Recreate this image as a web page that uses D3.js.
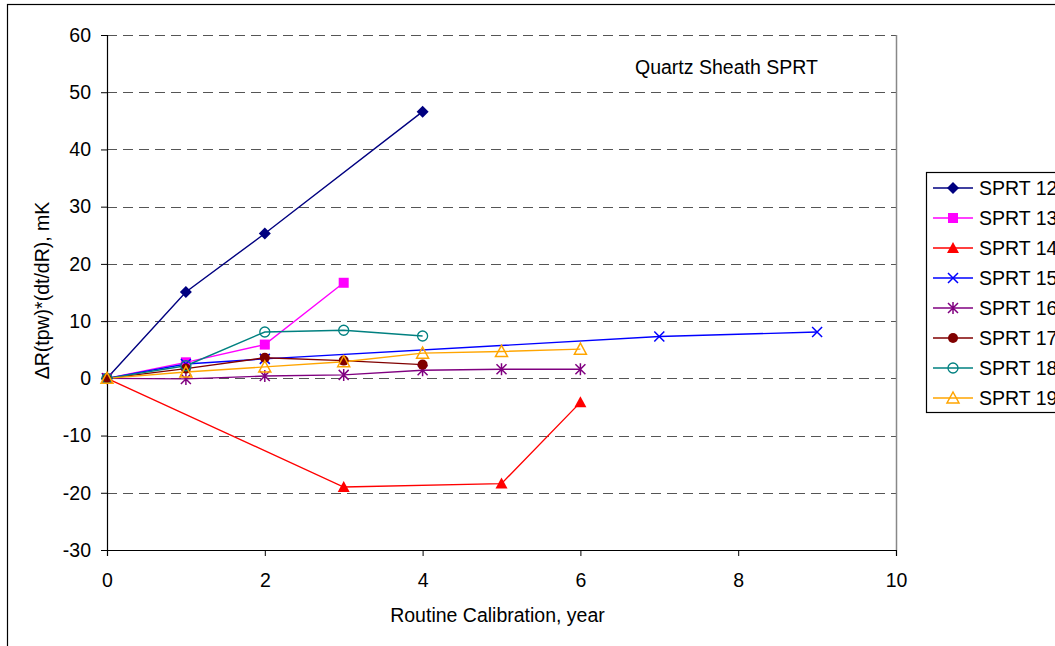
<!DOCTYPE html>
<html>
<head>
<meta charset="utf-8">
<script src="https://cdn.jsdelivr.net/npm/d3@7"></script>
<style>
  body { margin: 0; background: #fff; }
  text { font-family: "Liberation Sans", Arial, sans-serif; }
</style>
</head>
<body>
<div id="chart"></div>
<script>
// values
var seriesNames = ["SPRT 12", "SPRT 13", "SPRT 14", "SPRT 15", "SPRT 16", "SPRT 17", "SPRT 18", "SPRT 19"];
var sprt12 = [[0, 0], [1, 15.1], [2, 25.3], [4, 46.6]];
var sprt13 = [[0, 0], [1, 2.8], [2, 5.9], [3, 16.7]];
var sprt14 = [[0, 0], [3, -19.0], [5, -18.4], [6, -4.2]];
var sprt15 = [[0, 0], [1, 2.5], [2, 3.4], [7, 7.3], [9, 8.1]];
var sprt16 = [[0, 0], [1, -0.1], [2, 0.4], [3, 0.6], [4, 1.4], [5, 1.6], [6, 1.6]];
var sprt17 = [[0, 0], [1, 1.7], [2, 3.6], [3, 3.1], [4, 2.4]];
var sprt18 = [[0, 0], [1, 2.2], [2, 8.1], [3, 8.4], [4, 7.4]];
var sprt19 = [[0, 0], [1, 1.1], [2, 2.0], [3, 2.9], [4, 4.4], [5, 4.7], [6, 5.1]];
var xTicks = [0, 2, 4, 6, 8, 10];
var yTicks = [-30, -20, -10, 0, 10, 20, 30, 40, 50, 60];

var seriesData = [sprt12, sprt13, sprt14, sprt15, sprt16, sprt17, sprt18, sprt19];
var colors = ["#000080", "#ff00ff", "#ff0000", "#0000ff", "#800080", "#800000", "#008080", "#ffa500"];
var shapes = ["diamond", "square", "triangle", "x", "star", "circle", "ocircle", "otriangle"];

var W = 1055, H = 646;
var fs = 19.5;
var margin = {top: 35, left: 107, right: W - 896, bottom: H - 550};
var width = W - margin.left - margin.right,
    height = H - margin.top - margin.bottom;

var svg = d3.select("#chart").append("svg")
    .attr("width", W)
    .attr("height", H);

// outer chart frame
svg.append("rect")
    .attr("x", 7.5).attr("y", 4.5)
    .attr("width", W + 10).attr("height", H + 10)
    .attr("fill", "none").attr("stroke", "#000").attr("stroke-width", 1.2);

var g = svg.append("g").attr("transform", "translate(" + margin.left + "," + margin.top + ")");

var x = d3.scaleLinear().domain([0, 10]).range([0, width]);
var y = d3.scaleLinear().domain([-30, 60]).range([height, 0]);

// dashed gridlines
g.selectAll(".grid").data(yTicks.filter(function(d) { return d != -30; }))
    .enter().append("line")
    .attr("class", "grid")
    .attr("x1", 0).attr("x2", width)
    .attr("y1", function(d) { return Math.round(y(d)) + 0.5; })
    .attr("y2", function(d) { return Math.round(y(d)) + 0.5; })
    .attr("stroke", "#555").attr("stroke-width", 1)
    .attr("stroke-dasharray", "10,6");

// right edge of plot area
g.append("line")
    .attr("x1", width + 0.5).attr("x2", width + 0.5)
    .attr("y1", 0).attr("y2", height)
    .attr("stroke", "#888").attr("stroke-width", 1.5);

var plain = function(d) { return String(d); };
var xAxis = g.append("g")
    .attr("transform", "translate(0," + height + ")")
    .call(d3.axisBottom(x).tickValues(xTicks).tickFormat(plain).tickSize(6).tickPadding(17));
var yAxis = g.append("g")
    .call(d3.axisLeft(y).tickValues(yTicks).tickFormat(plain).tickSize(6).tickPadding(10));

[xAxis, yAxis].forEach(function(a) {
    a.select(".domain").attr("stroke", "#000").attr("stroke-width", 1.2);
    a.selectAll(".tick line").attr("stroke", "#000");
    a.selectAll("text").attr("font-size", fs).attr("fill", "#000")
        .attr("font-family", "Liberation Sans, Arial, sans-serif");
});
yAxis.select(".domain").attr("d", "M0.5," + height + "V0");

var line = d3.line()
    .x(function(d) { return x(d[0]); })
    .y(function(d) { return y(d[1]); });

function marker(sel, shape, color) {
    var s = 5;
    if (shape == "diamond") {
        sel.append("path").attr("d", "M0,-6L6,0L0,6L-6,0Z").attr("fill", color);
    } else if (shape == "square") {
        sel.append("rect").attr("x", -5).attr("y", -5).attr("width", 10).attr("height", 10).attr("fill", color);
    } else if (shape == "triangle") {
        sel.append("path").attr("d", "M0,-6L6,5L-6,5Z").attr("fill", color);
    } else if (shape == "otriangle") {
        sel.append("path").attr("d", "M0,-6L6,5L-6,5Z").attr("fill", "none")
            .attr("stroke", color).attr("stroke-width", 1.5);
    } else if (shape == "x") {
        sel.append("path").attr("d", "M-5,-5L5,5M-5,5L5,-5").attr("stroke", color).attr("stroke-width", 1.5);
    } else if (shape == "star") {
        sel.append("path").attr("d", "M-5,-5L5,5M-5,5L5,-5M0,-6V6").attr("stroke", color).attr("stroke-width", 1.5);
    } else if (shape == "circle") {
        sel.append("circle").attr("r", s).attr("fill", color);
    } else if (shape == "ocircle") {
        sel.append("circle").attr("r", s).attr("fill", "none").attr("stroke", color).attr("stroke-width", 1.3);
    }
}

seriesData.forEach(function(data, i) {
    g.append("path")
        .datum(data)
        .attr("d", line)
        .attr("fill", "none")
        .attr("stroke", colors[i])
        .attr("stroke-width", 1.4);
});
seriesData.forEach(function(data, i) {
    data.forEach(function(p) {
        var m = g.append("g").attr("transform", "translate(" + x(p[0]) + "," + y(p[1]) + ")");
        marker(m, shapes[i], colors[i]);
    });
});

// title inside plot
svg.append("text")
    .attr("x", 635).attr("y", 74)
    .attr("font-size", fs)
    .text("Quartz Sheath SPRT");

// axis titles
svg.append("text")
    .attr("x", margin.left + width / 2 - 4).attr("y", 622)
    .attr("text-anchor", "middle")
    .attr("font-size", fs)
    .text("Routine Calibration, year");

svg.append("text")
    .attr("transform", "translate(49," + (margin.top + height / 2 - 2) + ") rotate(-90)")
    .attr("text-anchor", "middle")
    .attr("font-size", fs)
    .text("ΔR(tpw)*(dt/dR), mK");

// legend
var legend = svg.append("g").attr("transform", "translate(926,172)");
legend.append("rect")
    .attr("x", 0.5).attr("y", 0.5)
    .attr("width", 200).attr("height", 240)
    .attr("fill", "#fff").attr("stroke", "#000").attr("stroke-width", 1.2);

var items = legend.selectAll(".item").data(seriesNames)
    .enter().append("g")
    .attr("class", "item")
    .attr("transform", function(d, i) { return "translate(0," + (16 + i * 30) + ")"; });

items.append("line")
    .attr("x1", 7).attr("x2", 47)
    .attr("stroke", function(d, i) { return colors[i]; })
    .attr("stroke-width", 1.4);
items.each(function(d, i) {
    var m = d3.select(this).append("g").attr("transform", "translate(27,0)");
    marker(m, shapes[i], colors[i]);
});
items.append("text")
    .attr("x", 53).attr("y", 7)
    .attr("font-size", fs)
    .text(function(d) { return d; });
</script>
</body>
</html>
